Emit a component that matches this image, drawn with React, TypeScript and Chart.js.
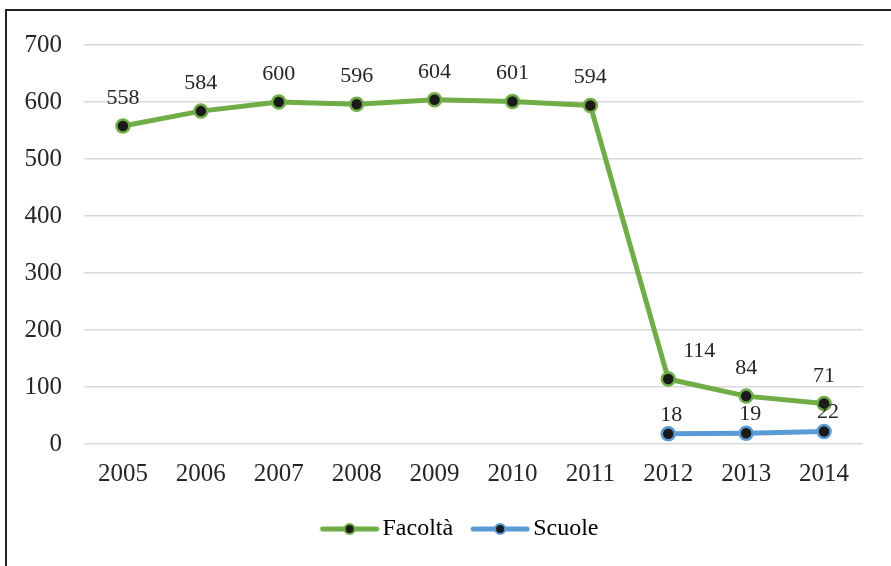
import React, { useEffect, useRef } from "react";
import { Chart, registerables } from "chart.js";

Chart.register(...registerables);

const years = ["2005", "2006", "2007", "2008", "2009", "2010", "2011", "2012", "2013", "2014"];
const facolta = [558, 584, 600, 596, 604, 601, 594, 114, 84, 71];
const scuole = [null, null, null, null, null, null, null, 18, 19, 22];
const seriesNames = ["Facoltà", "Scuole"];

const GREEN = "#70AD47";
const BLUE = "#5B9BD5";
const DOT = "#1a1a1a";
const TEXT = "#262626";
const FONT = "'Liberation Serif', 'Times New Roman', serif";

// legend icon: 68px image centred on a 50px legend box, line drawn in its right part
function legendIcon(color: string) {
  const c = document.createElement("canvas");
  c.width = 68;
  c.height = 16;
  const ctx = c.getContext("2d")!;
  ctx.strokeStyle = color;
  ctx.lineWidth = 5;
  ctx.lineCap = "round";
  ctx.beginPath();
  ctx.moveTo(11, 8);
  ctx.lineTo(65, 8);
  ctx.stroke();
  ctx.beginPath();
  ctx.arc(38, 8, 5, 0, Math.PI * 2);
  ctx.fillStyle = DOT;
  ctx.fill();
  ctx.lineWidth = 2;
  ctx.strokeStyle = color;
  ctx.stroke();
  return c;
}

const valueLabels = {
  id: "valueLabels",
  afterDatasetsDraw(chart: any) {
    const ctx = chart.ctx;
    const rise = [22, 13];
    const shifts: Record<string, number> = { "0-7": 31, "1-7": 3, "1-8": 4, "1-9": 4 };
    ctx.save();
    ctx.font = `22px ${FONT}`;
    ctx.fillStyle = TEXT;
    ctx.textAlign = "center";
    ctx.textBaseline = "alphabetic";
    chart.data.datasets.forEach((ds: any, di: number) => {
      const meta = chart.getDatasetMeta(di);
      meta.data.forEach((pt: any, i: number) => {
        const v = ds.data[i];
        if (v === null || v === undefined) return;
        const dx = shifts[`${di}-${i}`] || 0;
        ctx.fillText(String(v), pt.x + dx, pt.y - rise[di]);
      });
    });
    ctx.restore();
  },
};

// shift the legend to the right so it sits where the original one does
const legendShift = {
  id: "legendShift",
  afterLayout(chart: any) {
    if (chart.legend) {
      chart.legend.left += 28;
      chart.legend.right += 28;
    }
  },
};

export default function App() {
  const ref = useRef<HTMLCanvasElement>(null);
  useEffect(() => {
    const icons = [legendIcon(GREEN), legendIcon(BLUE)];
    const chart = new Chart(ref.current!, {
      type: "line",
      data: {
        labels: years,
        datasets: [
          {
            label: seriesNames[0],
            data: facolta,
            borderColor: GREEN,
            backgroundColor: DOT,
            borderWidth: 5,
            pointRadius: 6.5,
            pointBorderWidth: 2.5,
            pointBorderColor: GREEN,
            pointBackgroundColor: DOT,
            tension: 0,
          },
          {
            label: seriesNames[1],
            data: scuole,
            borderColor: BLUE,
            backgroundColor: DOT,
            borderWidth: 5,
            pointRadius: 6.5,
            pointBorderWidth: 2.5,
            pointBorderColor: BLUE,
            pointBackgroundColor: DOT,
            tension: 0,
          },
        ],
      },
      options: {
        animation: false,
        responsive: false,
        maintainAspectRatio: false,
        layout: { padding: { left: 0, right: 28, top: 45, bottom: 15 } },
        scales: {
          x: {
            offset: true,
            afterFit: (s: any) => { s.height = 55; },
            grid: { display: false, drawTicks: false },
            border: { display: false },
            ticks: { color: TEXT, font: { family: FONT, size: 25 }, padding: 15, maxRotation: 0 },
          },
          y: {
            min: 0,
            max: 700,
            afterFit: (s: any) => { s.width = 84; },
            grid: { color: "#d9d9d9", lineWidth: 1.5, drawTicks: false },
            border: { display: false },
            ticks: { stepSize: 100, color: TEXT, font: { family: FONT, size: 25 }, padding: 22 },
          },
        },
        plugins: {
          tooltip: { enabled: false },
          legend: {
            position: "bottom",
            labels: {
              usePointStyle: true,
              pointStyleWidth: 50,
              boxHeight: 16,
              padding: 18,
              color: TEXT,
              font: { family: FONT, size: 24 },
              generateLabels: () =>
                seriesNames.map((n, i) => ({
                  text: n,
                  pointStyle: icons[i] as any,
                  fillStyle: DOT,
                  strokeStyle: i === 0 ? GREEN : BLUE,
                  lineWidth: 0,
                  hidden: false,
                  datasetIndex: i,
                })),
            },
          },
        },
      },
      plugins: [valueLabels, legendShift],
    });
    return () => chart.destroy();
  }, []);

  return (
    <div style={{ position: "fixed", left: 0, top: 0, width: 891, height: 566, overflow: "hidden", background: "#fff" }}>
      <div
        style={{
          position: "absolute",
          left: 5,
          top: 9,
          width: 1000,
          height: 1000,
          borderLeft: "2px solid #222",
          borderTop: "2px solid #222",
        }}
      />
      <canvas ref={ref} width={891} height={566} style={{ position: "absolute", left: 0, top: 0 }} />
    </div>
  );
}
